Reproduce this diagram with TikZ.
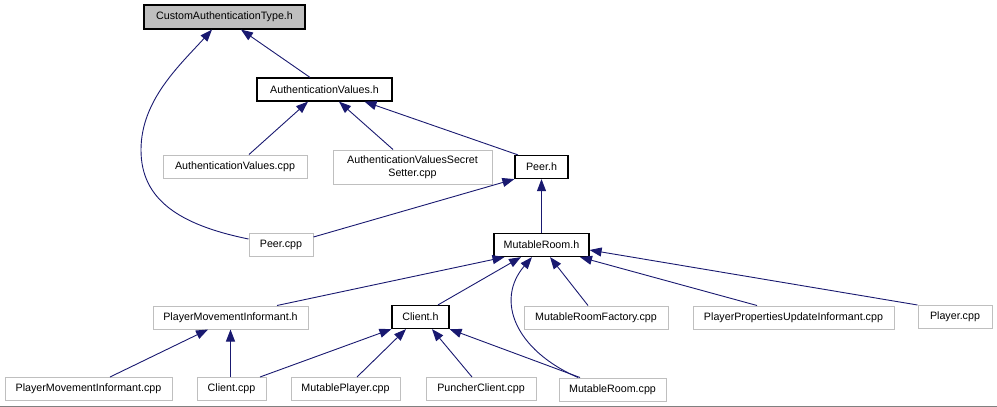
\documentclass[tikz,border=0pt]{standalone}
\usepackage{fontspec}
\setmainfont{Liberation Sans}
\usetikzlibrary{arrows.meta}
\definecolor{edgeblue}{HTML}{191970}
\definecolor{boxgray}{HTML}{BFBFBF}

\begin{document}
\begin{tikzpicture}[x=1pt,y=-1pt,>={Triangle[length=12pt,width=9pt]},
  file/.style={draw=boxgray,fill=white,line width=1pt,inner sep=0pt,minimum height=23pt,
    font=\fontsize{10.7}{13}\selectfont},
  hdr/.style={file,draw=black,line width=1.2pt},
  dep/.style={->,draw=edgeblue,line width=0.9pt}]
  \useasboundingbox (0,0) rectangle (997,407);
  \node[hdr,fill=boxgray,minimum width=161pt,minimum height=24pt] (CAT) at (224.5,17) {CustomAuthenticationType.h};
  \node[hdr,minimum width=135pt] (AVh) at (324.5,89.5) {AuthenticationValues.h};
  \node[file,minimum width=144pt] (AVcpp) at (235,166.5) {AuthenticationValues.cpp};
  \node[file,minimum width=159pt,minimum height=34pt,align=center] (AVSS) at (412.5,167) {AuthenticationValuesSecret\\Setter.cpp};
  \node[hdr,minimum width=53pt] (Peerh) at (541.5,167) {Peer.h};
  \node[file,minimum width=64pt] (Peercpp) at (281,244.5) {Peer.cpp};
  \node[hdr,minimum width=95pt] (MRh) at (541.5,245) {MutableRoom.h};
  \node[file,minimum width=155pt] (PMIh) at (230.5,317.5) {PlayerMovementInformant.h};
  \node[hdr,minimum width=57pt] (Clienth) at (420.5,317) {Client.h};
  \node[file,minimum width=144pt] (MRF) at (596,317.5) {MutableRoomFactory.cpp};
  \node[file,minimum width=201pt] (PPUI) at (793.5,317.5) {PlayerPropertiesUpdateInformant.cpp};
  \node[file,minimum width=74pt] (Player) at (955,317) {Player.cpp};
  \node[file,minimum width=167pt] (PMIcpp) at (88.5,389) {PlayerMovementInformant.cpp};
  \node[file,minimum width=69pt] (Clientcpp) at (231.5,389) {Client.cpp};
  \node[file,minimum width=109pt] (MPcpp) at (345.5,389) {MutablePlayer.cpp};
  \node[file,minimum width=110pt] (PCcpp) at (481,389) {PuncherClient.cpp};
  \node[file,minimum width=107pt] (MRcpp) at (612.5,389.5) {MutableRoom.cpp};
  \draw[dep] ([xshift=-14.5pt]AVh.north) -- ([xshift=16.5pt]CAT.south);
  \draw[dep] ([yshift=5.5pt]Peercpp.west) .. controls (180,225) and (141,200) .. (141,150)
    .. controls (141,100) and (180,65) .. ([xshift=-12.5pt]CAT.south);
  \draw[dep] ([xshift=14pt]AVcpp.north) -- ([xshift=-16.5pt]AVh.south);
  \draw[dep] ([xshift=-19.5pt]AVSS.north) -- ([xshift=14.5pt]AVh.south);
  \draw[dep] ([xshift=-23.5pt]Peerh.north) -- ([xshift=40pt]AVh.south);
  \draw[dep] ([yshift=7.5pt]Peercpp.east) -- (Peerh.south west);
  \draw[dep] (MRh) -- (Peerh);
  \draw[dep] ([xshift=46.5pt]PMIh.north) -- ([xshift=-37pt]MRh.south);
  \draw[dep] ([xshift=17.5pt]Clienth.north) -- ([xshift=-20.5pt]MRh.south);
  \draw[dep] ([xshift=-34.5pt]MRcpp.north) .. controls (515,350) and (495,300) .. ([xshift=-9.5pt]MRh.south);
  \draw[dep] ([xshift=-8pt]MRF.north) -- ([xshift=8.5pt]MRh.south);
  \draw[dep] ([xshift=-36.5pt]PPUI.north) -- ([xshift=38.5pt]MRh.south);
  \draw[dep] (Player.north west) -- ([yshift=-5pt]MRh.east);
  \draw[dep] ([xshift=21.5pt]PMIcpp.north) -- ([xshift=-22.5pt]PMIh.south);
  \draw[dep] (PMIh.south |- Clientcpp.north) -- (PMIh.south);
  \draw[dep] ([xshift=28.5pt]Clientcpp.north) -- (Clienth.south west);
  \draw[dep] ([xshift=11.5pt]MPcpp.north) -- ([xshift=-14.5pt]Clienth.south);
  \draw[dep] ([xshift=-9pt]PCcpp.north) -- ([xshift=11.5pt]Clienth.south);
  \draw[dep] ([xshift=-32.5pt]MRcpp.north) -- (Clienth.south east);
  \draw[gray,line width=1pt] (0,406) -- (997,406);
\end{tikzpicture}
\end{document}
